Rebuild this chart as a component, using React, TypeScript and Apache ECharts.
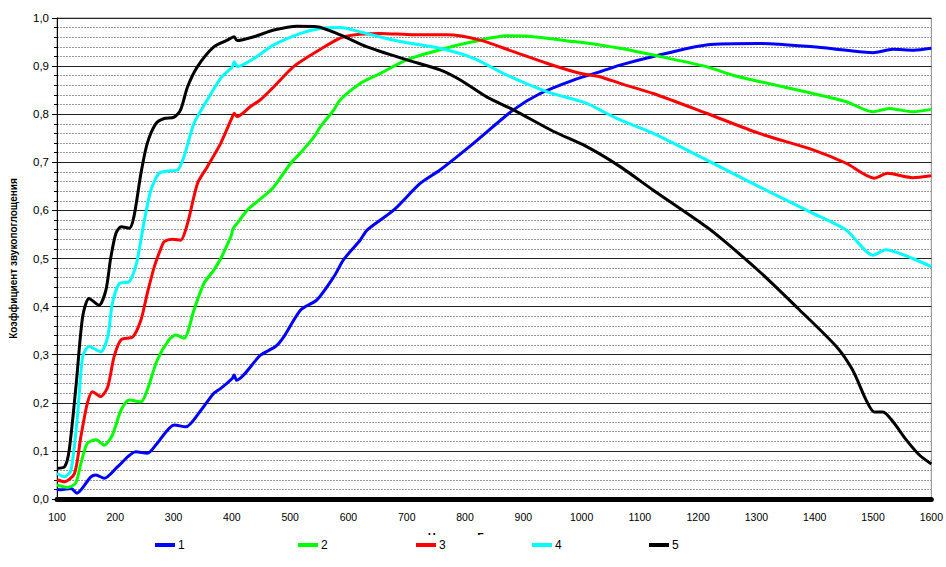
import React, { useEffect, useRef } from "react";
import * as echarts from "echarts";

const seriesNames = ["1", "2", "3", "4", "5"];
const seriesColors = ["#0000FF", "#00FF00", "#FF0000", "#00FFFF", "#000000"];

const f1 = [100,107,124,134,158,167,181,204,235,255,272,301,321,346,369,381,401,404,408,449,475,489,518,546,575,592,620,632,678,723,757,815,883,929,986,1031,1066,1123,1214,1305,1397,1454,1500,1534,1570,1600];
const v1 = [0.02,0.019,0.022,0.012,0.046,0.05,0.043,0.067,0.098,0.095,0.116,0.154,0.15,0.183,0.22,0.23,0.251,0.258,0.247,0.299,0.317,0.337,0.393,0.414,0.462,0.498,0.538,0.559,0.601,0.656,0.684,0.74,0.809,0.843,0.871,0.888,0.902,0.92,0.944,0.947,0.94,0.933,0.928,0.935,0.933,0.937];

const f2 = [100,118,132,141,152,167,181,195,210,224,244,255,272,292,304,318,335,352,369,381,399,402,409,427,461,472,501,518,541,552,575,586,620,655,700,757,815,872,917,986,1031,1066,1123,1214,1260,1305,1397,1454,1500,1528,1568,1600];
const v2 = [0.029,0.024,0.033,0.074,0.116,0.123,0.112,0.133,0.185,0.206,0.202,0.227,0.289,0.331,0.341,0.334,0.393,0.448,0.476,0.5,0.548,0.562,0.573,0.601,0.636,0.649,0.698,0.72,0.753,0.774,0.809,0.83,0.864,0.885,0.913,0.934,0.951,0.963,0.961,0.951,0.944,0.937,0.923,0.899,0.881,0.868,0.843,0.826,0.805,0.812,0.805,0.81];

const f3 = [100,113,130,141,152,161,175,187,198,210,230,244,255,267,278,284,298,312,324,341,358,381,401,404,409,432,449,472,506,552,592,655,712,769,826,883,940,997,1031,1066,1123,1214,1305,1397,1454,1502,1525,1568,1600];
const v3 = [0.04,0.036,0.053,0.13,0.199,0.223,0.213,0.233,0.296,0.331,0.337,0.372,0.428,0.483,0.52,0.535,0.54,0.538,0.573,0.656,0.691,0.74,0.795,0.802,0.795,0.816,0.83,0.857,0.899,0.935,0.961,0.968,0.965,0.965,0.954,0.93,0.906,0.885,0.878,0.864,0.843,0.802,0.76,0.726,0.698,0.667,0.677,0.668,0.672];

const f4 = [100,113,124,135,144,155,175,187,195,207,224,235,241,249,261,275,290,307,318,335,358,381,401,404,410,438,472,518,552,586,620,689,757,815,872,940,1008,1031,1066,1123,1214,1305,1397,1454,1500,1522,1568,1600];
const v4 = [0.053,0.046,0.06,0.171,0.296,0.317,0.306,0.337,0.407,0.448,0.452,0.483,0.518,0.573,0.642,0.677,0.682,0.684,0.712,0.781,0.83,0.875,0.899,0.909,0.899,0.916,0.944,0.968,0.978,0.98,0.971,0.951,0.937,0.916,0.881,0.847,0.823,0.809,0.788,0.76,0.705,0.649,0.594,0.559,0.507,0.518,0.5,0.483];

const f5 = [100,113,121,133,144,155,172,184,192,201,210,224,232,244,255,270,284,301,312,324,341,369,392,404,409,438,472,512,546,586,632,700,757,792,837,883,952,1008,1066,1123,1214,1243,1305,1374,1437,1465,1488,1502,1517,1534,1557,1580,1600];
const v5 = [0.064,0.067,0.102,0.24,0.379,0.417,0.403,0.435,0.5,0.552,0.566,0.563,0.587,0.677,0.74,0.781,0.791,0.794,0.809,0.857,0.899,0.94,0.954,0.961,0.953,0.961,0.975,0.983,0.982,0.965,0.94,0.913,0.892,0.871,0.836,0.809,0.764,0.733,0.691,0.642,0.566,0.538,0.473,0.393,0.317,0.268,0.206,0.181,0.181,0.161,0.123,0.091,0.073];

const xFreqs = [f1, f2, f3, f4, f5];
const yVals = [v1, v2, v3, v4, v5];

const yAxisTitle = "Коэффициент звукопоглощения";
const xAxisTitle = "Частота, Гц";
const legendLefts = [155, 298, 416, 532, 649];

const FONT = "'Liberation Sans', Arial, sans-serif";

export default function App() {
  const ref = useRef<HTMLDivElement>(null);
  useEffect(() => {
    if (!ref.current) return;
    const chart = echarts.init(ref.current, null, { renderer: "svg" });
    const series = seriesNames.map((name, i) => ({
      name,
      type: "line",
      data: xFreqs[i].map((f, j) => [f, yVals[i][j]]),
      showSymbol: false,
      symbol: "none",
      smooth: 0.25,
      lineStyle: { color: seriesColors[i], width: 3 },
      itemStyle: { color: seriesColors[i] },
      z: 3,
    }));
    const legends = seriesNames.map((name, i) => ({
      data: [{ name, icon: "rect" }],
      left: legendLefts[i],
      top: 539,
      itemWidth: 20,
      itemHeight: 4,
      itemGap: 5,
      textStyle: { fontFamily: FONT, fontSize: 12, color: "#000", padding: [0, 0, 0, -2] },
      padding: 0,
      selectedMode: false,
    }));
    chart.setOption({
      animation: false,
      backgroundColor: "#fff",
      grid: {
        left: 56,
        right: 14,
        top: 18,
        bottom: 68,
        show: true,
        borderColor: "#888",
        borderWidth: 1,
      },
      legend: legends,
      xAxis: {
        type: "value",
        min: 100,
        max: 1600,
        interval: 100,
        offset: 2,
        axisLine: { show: true, lineStyle: { color: "#000", width: 5 } },
        axisTick: { show: false },
        splitLine: { show: false },
        axisLabel: {
          fontFamily: FONT,
          fontSize: 10.5,
          color: "#000",
          margin: 10,
          formatter: (v: number) => String(v),
        },
      },
      yAxis: {
        type: "value",
        min: 0,
        max: 1,
        interval: 0.1,
        name: yAxisTitle,
        nameLocation: "middle",
        nameRotate: 90,
        nameGap: 39,
        nameTextStyle: { fontFamily: FONT, fontSize: 10, fontWeight: "bold", color: "#000" },
        axisLine: { show: true, lineStyle: { color: "#000", width: 1 } },
        axisTick: { show: true, length: 5, lineStyle: { color: "#000" } },
        minorTick: { show: true, splitNumber: 5, length: 3, lineStyle: { color: "#000" } },
        splitLine: { show: true, lineStyle: { color: "#222", width: 1 } },
        minorSplitLine: { show: true, lineStyle: { color: "#999", width: 1, type: [2, 1] } },
        axisLabel: {
          fontFamily: FONT,
          fontSize: 11.5,
          color: "#000",
          margin: 8,
          formatter: (v: number) => v.toFixed(1).replace(".", ","),
        },
      },
      graphic: [
        {
          type: "text",
          left: 428,
          top: 531,
          z: 1,
          style: { text: xAxisTitle, fontFamily: FONT, fontSize: 11, fontWeight: "bold", fill: "#000" },
        },
        {
          type: "rect",
          left: 300,
          top: 535,
          z: 2,
          shape: { width: 400, height: 30 },
          style: { fill: "#fff" },
        },
      ],
      series,
    });
    return () => chart.dispose();
  }, []);
  return <div ref={ref} style={{ position: "fixed", left: 0, top: 0, width: 946, height: 567 }} />;
}
